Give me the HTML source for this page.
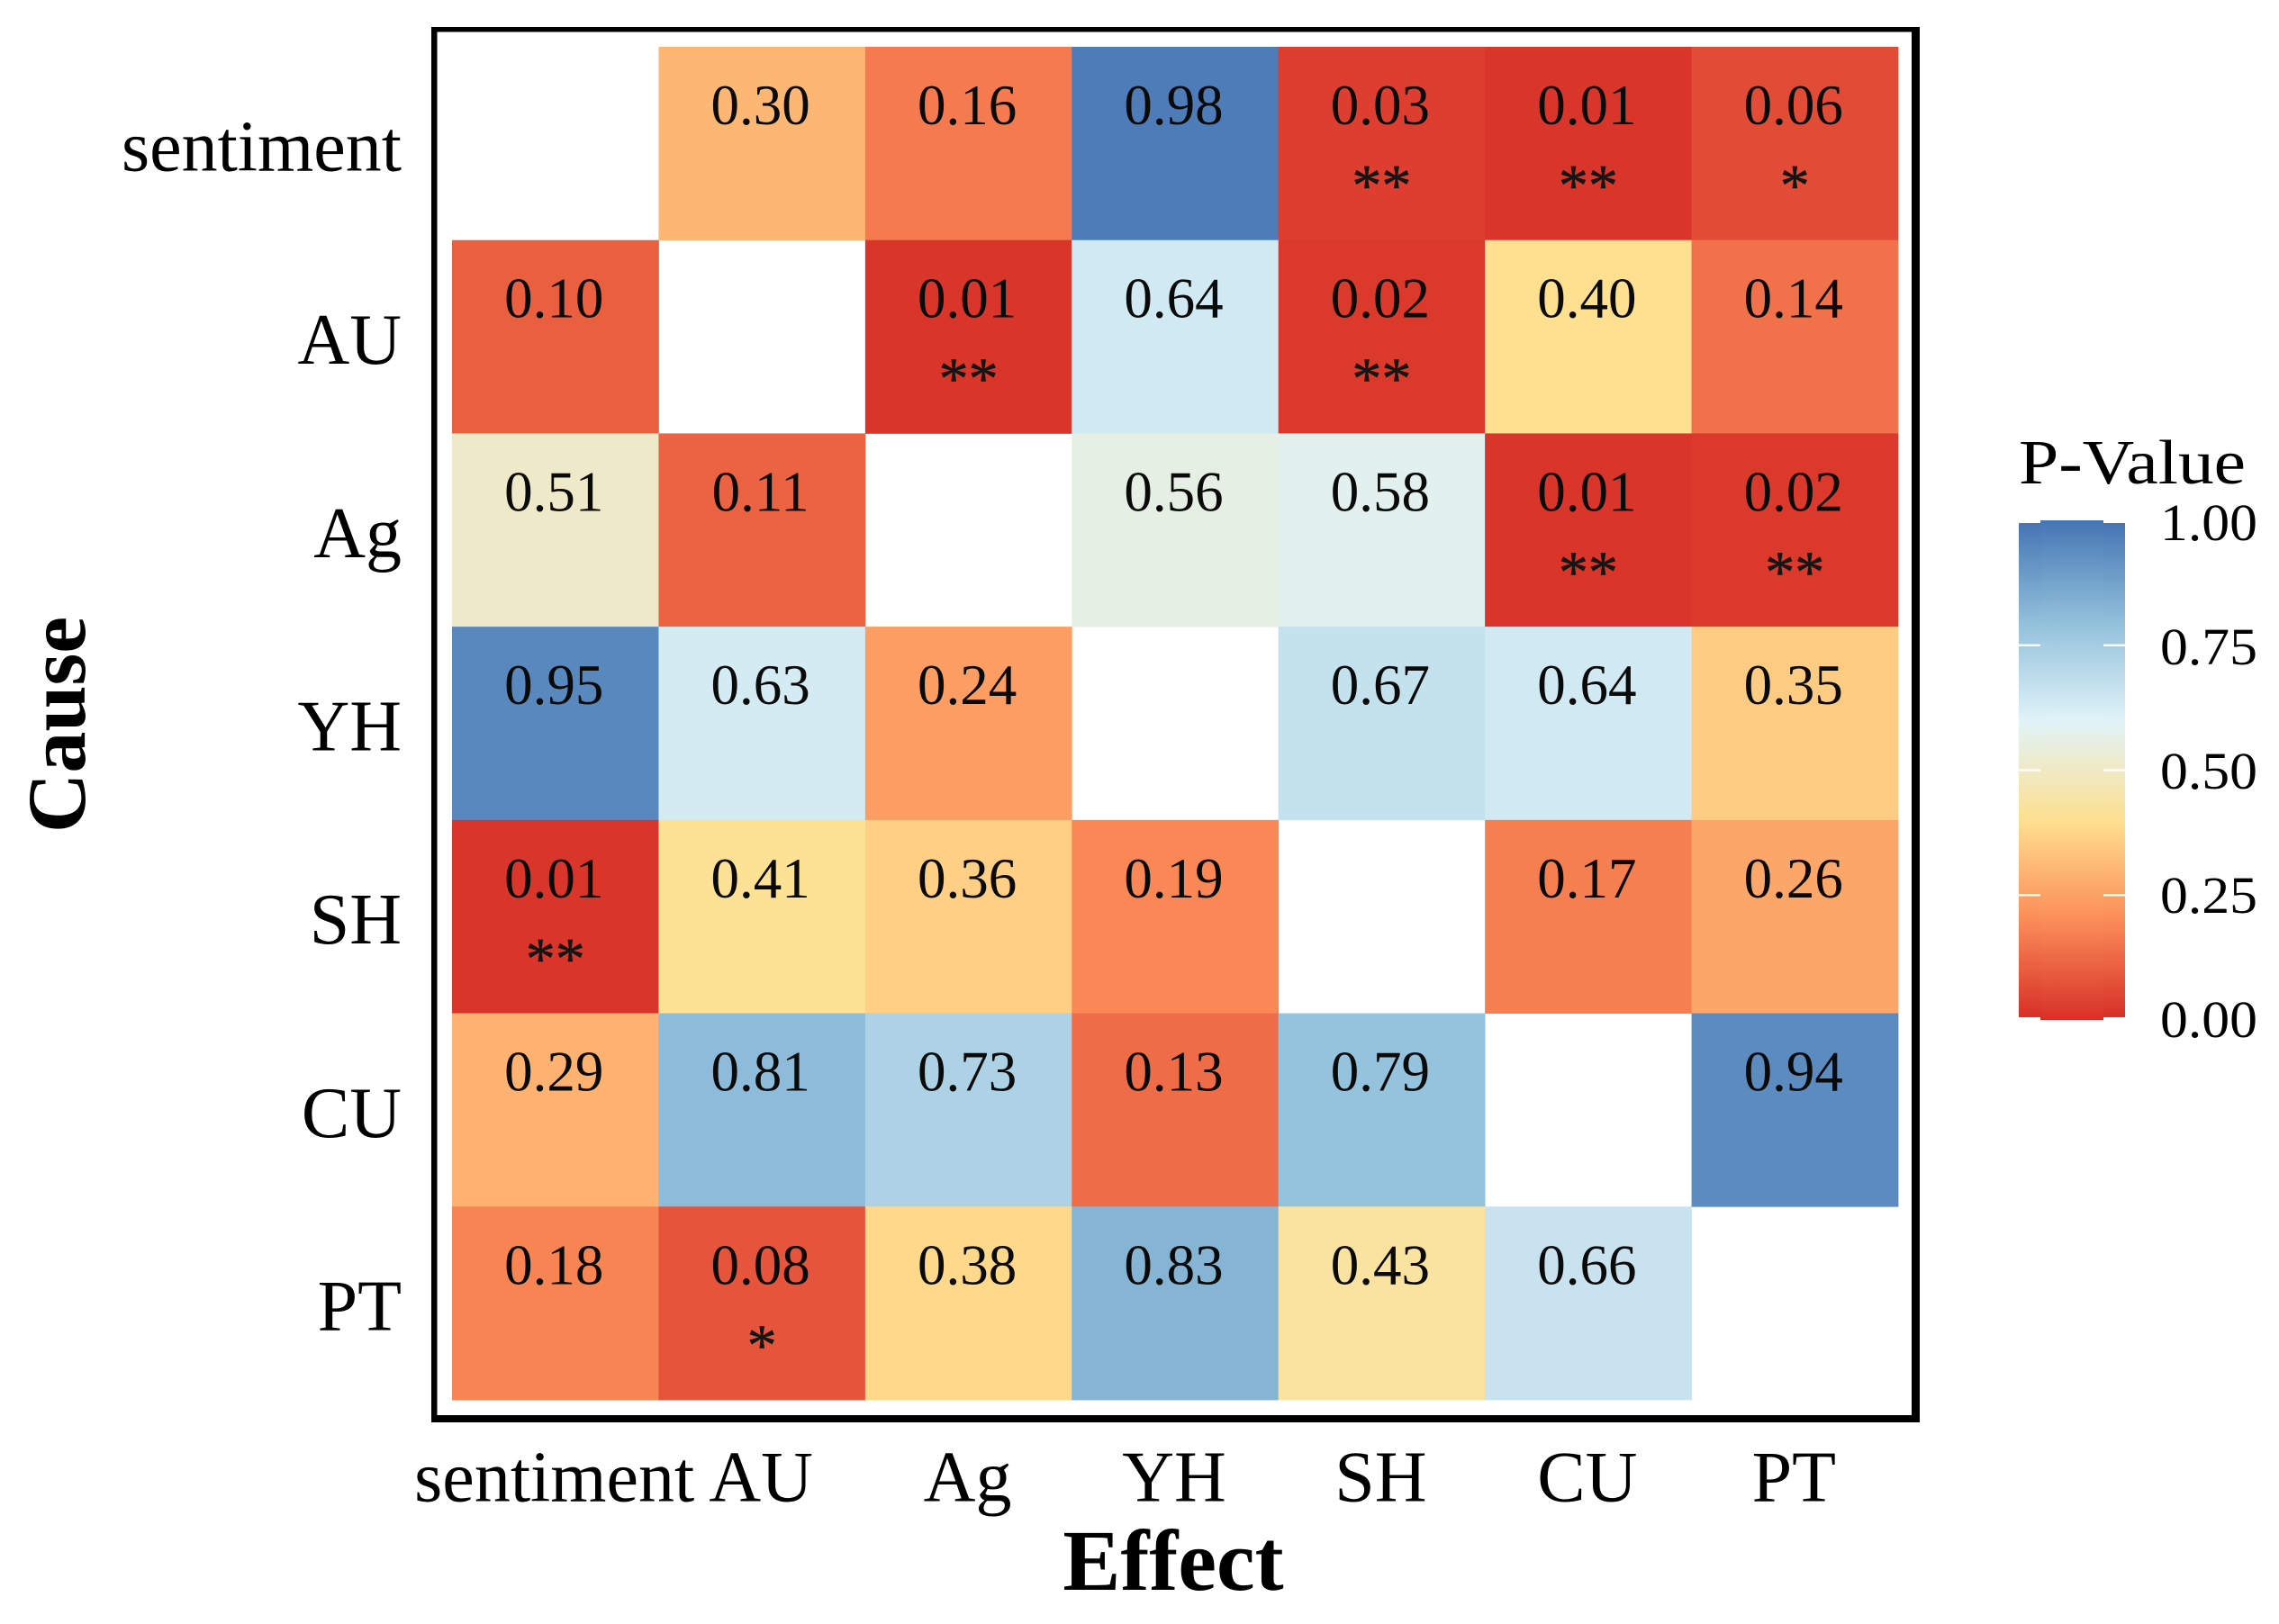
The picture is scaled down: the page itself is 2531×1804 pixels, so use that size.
<!DOCTYPE html>
<html lang="en">
<head>
<meta charset="utf-8">
<title>P-Value Heatmap</title>
<style>
html,body{margin:0;padding:0;background:#fff;}
svg{display:block;font-family:"Liberation Serif",serif;fill:#000;}
</style>
</head>
<body>
<svg id="chart" xmlns="http://www.w3.org/2000/svg" width="2531" height="1804" viewBox="0 0 2531 1804">
  <defs>
    <linearGradient id="legend-gradient" x1="0" y1="1" x2="0" y2="0"></linearGradient>
  </defs>
  <rect x="0" y="0" width="2531" height="1804" fill="#ffffff"/>
  <g id="cells"></g>
  <g id="frame" fill="#000">
    <rect x="479" y="30" width="1653" height="5.5"/>
    <rect x="479" y="30" width="6.5" height="1550"/>
    <rect x="2123" y="30" width="9" height="1550"/>
    <rect x="479" y="1572" width="1653" height="8"/>
  </g>
  <g id="x-axis"></g>
  <g id="y-axis"></g>
  <text x="1303" y="1766" font-size="96" font-weight="bold" text-anchor="middle">Effect</text>
  <text transform="translate(94,805) rotate(-90)" font-size="92" font-weight="bold" text-anchor="middle">Cause</text>
  <g id="legend">
    <text x="2242" y="537" font-size="70" textLength="252" lengthAdjust="spacingAndGlyphs">P-Value</text>
  </g>
</svg>
<script>
const causes = ["sentiment", "AU", "Ag", "YH", "SH", "CU", "PT"];
const effects = ["sentiment", "AU", "Ag", "YH", "SH", "CU", "PT"];
const rowSentiment = [null, 0.30, 0.16, 0.98, 0.03, 0.01, 0.06];
const rowAU = [0.10, null, 0.01, 0.64, 0.02, 0.40, 0.14];
const rowAg = [0.51, 0.11, null, 0.56, 0.58, 0.01, 0.02];
const rowYH = [0.95, 0.63, 0.24, null, 0.67, 0.64, 0.35];
const rowSH = [0.01, 0.41, 0.36, 0.19, null, 0.17, 0.26];
const rowCU = [0.29, 0.81, 0.73, 0.13, 0.79, null, 0.94];
const rowPT = [0.18, 0.08, 0.38, 0.83, 0.43, 0.66, null];
const pValues = [rowSentiment, rowAU, rowAg, rowYH, rowSH, rowCU, rowPT];
const legendTicks = [0, 0.25, 0.5, 0.75, 1];
const legendTickLabels = ["0.00", "0.25", "0.50", "0.75", "1.00"];
const palette = ["#d73027", "#fc8d59", "#fee090", "#e0f3f8", "#91bfdb", "#4575b4"];

const SVG_NS = "http://www.w3.org/2000/svg";

function xScale(i) { return 502 + i * (2108 - 502) / effects.length; }
function yScale(i) { return 52 + i * (1555 - 52) / causes.length; }
function legendScale(v) { return 1133 - v * (1133 - 578); }
function legendLabelScale(v) { return 1152 - v * (1152 - 600); }

function hexToRgb(h) {
  return [parseInt(h.slice(1, 3), 16), parseInt(h.slice(3, 5), 16), parseInt(h.slice(5, 7), 16)];
}
function colorFor(v) {
  const t = Math.max(0, Math.min(1, v)) * (palette.length - 1);
  const k = Math.min(palette.length - 2, Math.floor(t));
  const f = t - k;
  const a = hexToRgb(palette[k]);
  const b = hexToRgb(palette[k + 1]);
  return "rgb(" + a.map((c, n) => Math.round(c + (b[n] - c) * f)).join(",") + ")";
}
function starsFor(v) {
  if (v < 0.05) return "**";
  if (v < 0.10) return "*";
  return "";
}
function make(tag, attrs, parent) {
  const el = document.createElementNS(SVG_NS, tag);
  Object.keys(attrs).forEach(k => el.setAttribute(k, attrs[k]));
  parent.appendChild(el);
  return el;
}

const cellsG = document.getElementById("cells");
const xAxisG = document.getElementById("x-axis");
const yAxisG = document.getElementById("y-axis");
const legendG = document.getElementById("legend");
const gradient = document.getElementById("legend-gradient");

pValues.forEach((row, r) => {
  row.forEach((v, c) => {
    if (v === null) return;
    const x0 = xScale(c);
    const x1 = xScale(c + 1);
    const y0 = yScale(r);
    const y1 = yScale(r + 1);
    const rect = make("rect", { x: x0, y: y0, width: x1 - x0 + 0.4, height: y1 - y0 + 0.4, fill: colorFor(v) }, cellsG);
    
    
    const label = make("text", { x: (x0 + x1) / 2 - 1.5, y: y0 + 86, "font-size": 63, "text-anchor": "middle", fill: "#0a0a0a" }, cellsG);
    label.textContent = v.toFixed(2);
    
    
    const stars = starsFor(v);
    if (stars) {
      const star = make("text", { x: (x0 + x1) / 2, y: y0 + 176, "font-size": 66, "text-anchor": "middle", fill: "#151515", stroke: "#151515", "stroke-width": 0.6 }, cellsG);
      star.textContent = stars;
      
      
    }
  });
});

effects.forEach((name, i) => {
  const t = make("text", { x: (xScale(i) + xScale(i + 1)) / 2 - 1, y: 1667.5, "font-size": 80, "text-anchor": "middle" }, xAxisG);
  t.textContent = name;
  
  
});

causes.forEach((name, i) => {
  const t = make("text", { x: 446, y: (yScale(i) + yScale(i + 1)) / 2 + 30, "font-size": 80, "text-anchor": "end" }, yAxisG);
  t.textContent = name;
  
  
});

palette.forEach((color, i) => {
  make("stop", { offset: i / (palette.length - 1), "stop-color": color }, gradient);
});

const barCentre = make("rect", { x: 2266, y: legendScale(1), width: 70, height: legendScale(0) - legendScale(1), fill: "url(#legend-gradient)" }, legendG);


const barLeft = make("rect", { x: 2242, y: legendScale(1) + 3, width: 24.5, height: legendScale(0) - legendScale(1) - 6, fill: "url(#legend-gradient)" }, legendG);


const barRight = make("rect", { x: 2335.5, y: legendScale(1) + 3, width: 24.5, height: legendScale(0) - legendScale(1) - 6, fill: "url(#legend-gradient)" }, legendG);



legendTicks.forEach((v, i) => {
  const y = legendScale(v);
  if (v > 0 && v < 1) {
    const tl = make("rect", { x: 2242, y: y - 1.2, width: 24, height: 2.4, fill: "#ffffff" }, legendG);
    
    
    const tr = make("rect", { x: 2336, y: y - 1.2, width: 24, height: 2.4, fill: "#ffffff" }, legendG);
    
    
  }
  const t = make("text", { x: 2399, y: legendLabelScale(v), "font-size": 58, textLength: 108, lengthAdjust: "spacingAndGlyphs" }, legendG);
  t.textContent = legendTickLabels[i];
  
  
});
</script>
</body>
</html>
